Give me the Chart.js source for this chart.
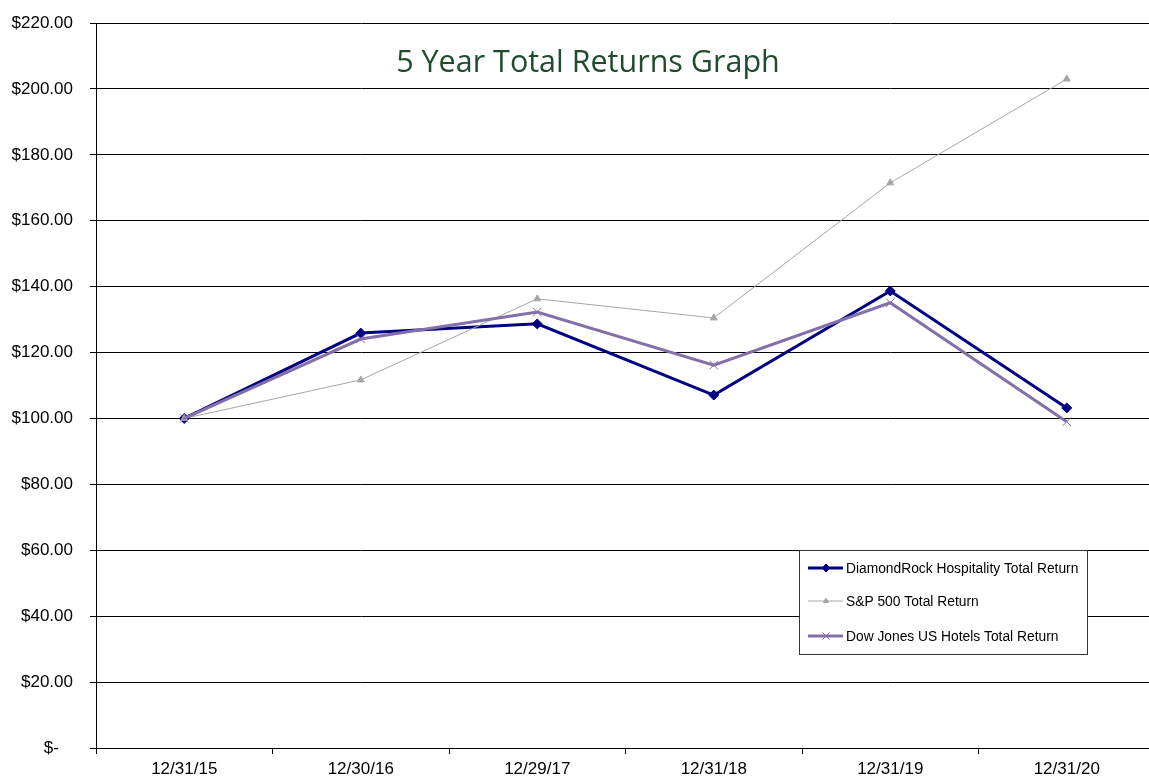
<!DOCTYPE html>
<html>
<head>
<meta charset="utf-8">
<script src="https://cdn.jsdelivr.net/npm/chart.js@4.4.1/dist/chart.umd.min.js"></script>
<style>
  html, body { margin: 0; padding: 0; background: #fff; overflow: hidden; }
  #wrap { position: relative; width: 1162px; height: 776px; }
  #title {
    position: absolute; left: 388px; top: 40px; width: 400px; text-align: center;
    font-family: "Open Sans", Lato, sans-serif; font-size: 30.5px; color: #1f4d2b;
    line-height: 40px; white-space: nowrap;
  }
</style>
</head>
<body>
<div id="wrap">
  <canvas id="myChart" width="1162" height="776"></canvas>
  <div id="title">5 Year Total Returns Graph</div>
</div>
<script>
// dữ liệu
const labels = ["12/31/15", "12/30/16", "12/29/17", "12/31/18", "12/31/19", "12/31/20"]
const diamondRock = [100, 125.9, 128.7, 107.1, 138.7, 103.2]
const sp500 = [100, 111.7, 136.3, 130.5, 171.5, 203.0]
const dowHotels = [100, 124.1, 132.3, 116.2, 135.1, 99.0]
const yTicks = [0, 20, 40, 60, 80, 100, 120, 140, 160, 180, 200, 220]

const axisFont = { family: "Arial, 'Liberation Sans', sans-serif", size: 17 }

// legend vẽ bên trong vùng biểu đồ
const boxLegend = {
  id: "boxLegend",
  afterDraw(chart) {
    const ctx = chart.ctx
    const x0 = 799, y0 = 550, w = 288, h = 104
    ctx.save()
    ctx.fillStyle = "#fff"
    ctx.fillRect(x0, y0, w, h)
    ctx.strokeStyle = "#333"
    ctx.lineWidth = 1
    ctx.strokeRect(x0 + 0.5, y0 + 0.5, w, h)
    const rows = [568, 601, 636]
    chart.data.datasets.forEach(function (ds, i) {
      const y = rows[i]
      ctx.strokeStyle = ds.borderColor
      ctx.lineWidth = ds.borderWidth
      ctx.beginPath()
      ctx.moveTo(808, y)
      ctx.lineTo(843, y)
      ctx.stroke()
      if (Chart.helpers && Chart.helpers.drawPoint) {
        ctx.fillStyle = ds.pointBackgroundColor
        ctx.strokeStyle = ds.pointBorderColor
        ctx.lineWidth = ds.pointBorderWidth
        Chart.helpers.drawPoint(ctx, {
          pointStyle: ds.pointStyle,
          radius: ds.pointRadius - 1,
          borderWidth: ds.pointBorderWidth,
          rotation: 0
        }, 826, y)
      }
      ctx.fillStyle = "#000"
      ctx.font = "13.8px Arial, 'Liberation Sans', sans-serif"
      ctx.textBaseline = "middle"
      ctx.textAlign = "left"
      ctx.fillText(ds.label, 846, y + 1)
    })
    ctx.restore()
  }
}

const chart = new Chart("myChart", {
  type: "line",
  data: {
    labels: labels,
    datasets: [{
        label: "DiamondRock Hospitality Total Return",
        data: diamondRock,
        borderColor: "#000080",
        backgroundColor: "#000080",
        borderWidth: 3,
        pointStyle: "rectRot",
        pointRadius: 5,
        pointBorderWidth: 1,
        pointBackgroundColor: "#000080",
        pointBorderColor: "#000080",
        tension: 0,
        order: 2
      }, {
        label: "S&P 500 Total Return",
        data: sp500,
        borderColor: "#a6a6a6",
        backgroundColor: "#a6a6a6",
        borderWidth: 1,
        pointStyle: "triangle",
        pointRadius: 4,
        pointBorderWidth: 1,
        pointBackgroundColor: "#a6a6a6",
        pointBorderColor: "#a6a6a6",
        tension: 0,
        order: 1
      }, {
        label: "Dow Jones US Hotels Total Return",
        data: dowHotels,
        borderColor: "#8470a8",
        backgroundColor: "#8470a8",
        borderWidth: 3,
        pointStyle: "crossRot",
        pointRadius: 6,
        pointBorderWidth: 1,
        pointBackgroundColor: "#8470a8",
        pointBorderColor: "#8470a8",
        tension: 0,
        order: 0
      }
    ]
  },
  options: {
    responsive: false,
    animation: false,
    layout: { padding: { top: 23, right: 0, left: 0, bottom: 0 } },
    plugins: {
      legend: { display: false },
      tooltip: { enabled: false }
    },
    scales: {
      x: {
        offset: true,
        grid: { offset: true, drawOnChartArea: false, color: "#000", tickLength: 6 },
        border: { color: "#000", width: 1 },
        ticks: { color: "#000", padding: 5, maxRotation: 0, font: axisFont },
        afterFit(scale) { scale.height = 28 }
      },
      y: {
        min: 0, max: 220,
        afterBuildTicks(scale) { scale.ticks = yTicks.map(v => ({ value: v })) },
        grid: { color: "#000", tickLength: 6 },
        border: { color: "#000", width: 1 },
        ticks: {
          color: "#000", padding: 17, font: axisFont,
          callback: v => v === 0 ? "$-   " : "$" + v.toFixed(2)
        },
        afterFit(scale) {
          scale.width = 96
          scale.paddingTop = 0
          scale.paddingBottom = 0
        }
      }
    }
  },
  plugins: [boxLegend]
})
</script>
</body>
</html>
